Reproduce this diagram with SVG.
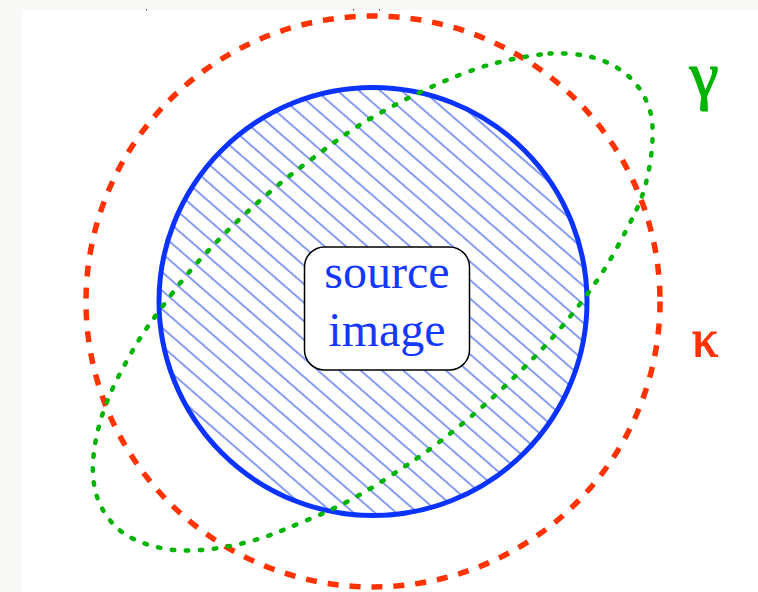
<svg xmlns="http://www.w3.org/2000/svg" width="758" height="592" viewBox="0 0 758 592">
<style>
.lbl{font-family:"Liberation Serif","Times New Roman",serif;}
.greek{font-family:"Liberation Serif","Times New Roman",serif;stroke-width:1.2;}
</style>
<defs>
<pattern id="hatch" patternUnits="userSpaceOnUse" width="40" height="14" patternTransform="rotate(41)">
<line x1="-5" y1="1" x2="45" y2="1" stroke="#5f7cf2" stroke-width="1.4"/>
</pattern>
</defs>
<rect x="0" y="0" width="758" height="592" fill="#f8f8f6"/>
<rect x="22" y="10" width="736" height="582" fill="#ffffff"/>
<g id="ticks" fill="#444">
<rect x="146" y="9" width="1" height="1.5"/>
<rect x="353" y="9" width="1" height="1.5"/>
<rect x="379" y="9" width="1" height="1.5"/>
</g>
<g id="source-region">
<circle cx="373" cy="301.5" r="214" fill="url(#hatch)" stroke="#0b33ff" stroke-width="5"/>
</g>
<g id="curves" fill="none">
<g id="kappa-curve">
<ellipse cx="373" cy="301.5" rx="287" ry="285.5" stroke="#ff3300" stroke-width="5.5" stroke-dasharray="11 11"/>
</g>
<g id="gamma-curve">
<path stroke="#00b300" stroke-width="4.5" stroke-linecap="round" stroke-dasharray="2.5 11.5" d="M549.5,53.5 Q557,53 572,54 Q587,55 601,60 Q615,65 626.5,74.5 Q638,84 645,98 Q652,112 652.5,127 Q653,142 651,157 Q649,172 645,186.5 Q641,201 634,215 Q627,229 616.5,248.5 Q606,268 592.5,287 Q579,306 564.5,323.5 Q550,341 534.5,357 Q519,373 502.5,388.5 Q486,404 470.5,417 Q455,430 440,441.5 Q425,453 413,461 Q401,469 388,477.5 Q375,486 362,493.5 Q349,501 335.5,507.5 Q322,514 307.5,520 Q293,526 279.5,531.5 Q266,537 251.5,541 Q237,545 222,547.5 Q207,550 191.5,550.5 Q176,551 161,548 Q146,545 132.5,538.5 Q119,532 109,519 Q99,506 95.5,491.5 Q92,477 93,462 Q94,447 97.5,432 Q101,417 106.5,403 Q112,389 119,375.5 Q126,362 133.5,349 Q141,336 150,323.5 Q159,311 172.5,293 Q186,275 201.5,258 Q217,241 233.5,225 Q250,209 267.5,194 Q285,179 303,165.5 Q321,152 339,139 Q357,126 377.5,114.5 Q398,103 418.5,93 Q439,83 459.5,75 Q480,67 496,63 Q512,59 527,56.5 Q542,54 549.5,53.5 Z"/>
</g>
</g>
<g id="label-box">
<rect x="304.5" y="247" width="165" height="123" rx="20" ry="20" fill="#ffffff" stroke="#000" stroke-width="1.5"/>
<text class="lbl" x="387" y="288" font-size="48" fill="#1438ff" text-anchor="middle">source</text>
<text class="lbl" x="387" y="346" font-size="48" fill="#1438ff" text-anchor="middle">image</text>
</g>
<g id="gamma-label">
<text class="greek" x="704" y="97" font-size="66" fill="#00b300" stroke="#00b300" text-anchor="middle">γ</text>
</g>
<g id="kappa-label">
<text class="greek" x="705" y="356" font-size="52" fill="#ff3300" stroke="#ff3300" text-anchor="middle">κ</text>
</g>
</svg>
